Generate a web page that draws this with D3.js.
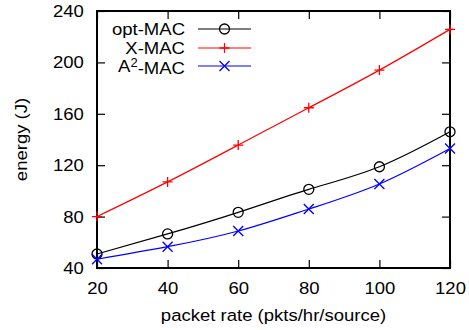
<!DOCTYPE html>
<html>
<head>
<meta charset="utf-8">
<script src="https://cdn.jsdelivr.net/npm/d3@7"></script>
<style>
  body { margin: 0; background: #fff; }
  svg { display: block; font-family: "Liberation Sans", Arial, Helvetica, sans-serif; }
</style>
</head>
<body>
<div id="chart"></div>
<script>
const rates = [20, 40, 60, 80, 100, 120];
const optMac = [50.9, 66.5, 83.3, 101.2, 118.8, 146];
const xMac = [80, 107, 135.7, 164.7, 194, 225.7];
const a2Mac = [46.8, 56.6, 68.8, 85.9, 105.4, 133];
const xTicks = [20, 40, 60, 80, 100, 120];
const yTicks = [40, 80, 120, 160, 200, 240];

const W = 469, H = 330;
const m = {left: 97, right: 19, top: 11, bottom: 62};
const svg = d3.select("#chart").append("svg").attr("width", W).attr("height", H);

const x = d3.scaleLinear().domain([20, 120]).range([m.left, W - m.right]);
const y = d3.scaleLinear().domain([40, 240]).range([H - m.bottom, m.top]);
const fs = 17;
const sx = 1.09; // text in the source is a little wider than Liberation Sans

const series = [
  {name: "opt-MAC", values: optMac, color: "#000", sym: "circle"},
  {name: "X-MAC", values: xMac, color: "#ff0000", sym: "plus"},
  {name: "A2-MAC", values: a2Mac, color: "#0000ff", sym: "cross"}
];

// axes with inward ticks, mirrored
const tl = 8;
svg.append("g").attr("transform", `translate(0,${y(40)})`)
  .call(d3.axisBottom(x).tickValues(xTicks).tickSize(-tl).tickPadding(tl + 6))
  .call(g => g.select(".domain").remove());
svg.append("g").attr("transform", `translate(0,${y(240)})`)
  .call(d3.axisTop(x).tickValues(xTicks).tickSize(-tl).tickFormat(""))
  .call(g => g.select(".domain").remove());
svg.append("g").attr("transform", `translate(${x(20)},0)`)
  .call(d3.axisLeft(y).tickValues(yTicks).tickSize(-tl).tickPadding(tl + 4))
  .call(g => g.select(".domain").remove());
svg.append("g").attr("transform", `translate(${x(120)},0)`)
  .call(d3.axisRight(y).tickValues(yTicks).tickSize(-tl).tickFormat(""))
  .call(g => g.select(".domain").remove());
svg.selectAll(".tick line").attr("stroke", "#000").attr("stroke-width", 1.2);
svg.selectAll(".tick text").attr("font-size", fs).attr("font-family", null).attr("fill", "#000")
  .attr("transform", `scale(${sx},1)`);

svg.append("rect")
  .attr("x", x(20)).attr("y", y(240))
  .attr("width", x(120) - x(20)).attr("height", y(40) - y(240))
  .attr("fill", "none").attr("stroke", "#000").attr("stroke-width", 2);

function marker(g, sym, cx, cy, color) {
  if (sym === "circle") {
    g.append("circle").attr("cx", cx).attr("cy", cy).attr("r", 5)
      .attr("fill", "none").attr("stroke", color).attr("stroke-width", 1.3);
  } else if (sym === "plus") {
    g.append("path").attr("d", `M${cx - 5},${cy}H${cx + 5}M${cx},${cy - 5}V${cy + 5}`)
      .attr("stroke", color).attr("stroke-width", 1.3);
  } else {
    g.append("path").attr("d", `M${cx - 5},${cy - 5}L${cx + 5},${cy + 5}M${cx - 5},${cy + 5}L${cx + 5},${cy - 5}`)
      .attr("stroke", color).attr("stroke-width", 1.3);
  }
}

const line = d3.line().x((d, i) => x(rates[i])).y(d => y(d)).curve(d3.curveNatural);
series.forEach(s => {
  const g = svg.append("g");
  g.append("path").attr("d", line(s.values)).attr("fill", "none")
    .attr("stroke", s.color).attr("stroke-width", 1.2);
  s.values.forEach((v, i) => marker(g, s.sym, x(rates[i]), y(v), s.color));
});

// legend
const legY = [29, 48, 66];
series.forEach((s, i) => {
  const g = svg.append("g");
  const t = g.append("text").attr("transform", `translate(185,${legY[i]}) scale(${sx},1)`)
    .attr("dy", "0.35em").attr("text-anchor", "end").attr("font-size", fs);
  if (s.name === "A2-MAC") {
    t.append("tspan").text("A");
    t.append("tspan").attr("dy", "-0.4em").attr("font-size", fs * 0.7).text("2");
    t.append("tspan").attr("dy", "0.4em").text("-MAC");
  } else {
    t.text(s.name);
  }
  g.append("line").attr("x1", 198).attr("x2", 251).attr("y1", legY[i]).attr("y2", legY[i])
    .attr("stroke", s.color).attr("stroke-width", 1.2);
  marker(g, s.sym, 224.5, legY[i], s.color);
});

svg.append("text").attr("transform", `translate(${(x(20) + x(120)) / 2},321) scale(${sx},1)`)
  .attr("text-anchor", "middle").attr("font-size", fs).text("packet rate (pkts/hr/source)");
svg.append("text").attr("transform", `translate(27,${(y(40) + y(240)) / 2}) rotate(-90) scale(${sx},1)`)
  .attr("text-anchor", "middle").attr("font-size", fs).text("energy (J)");
</script>
</body>
</html>
